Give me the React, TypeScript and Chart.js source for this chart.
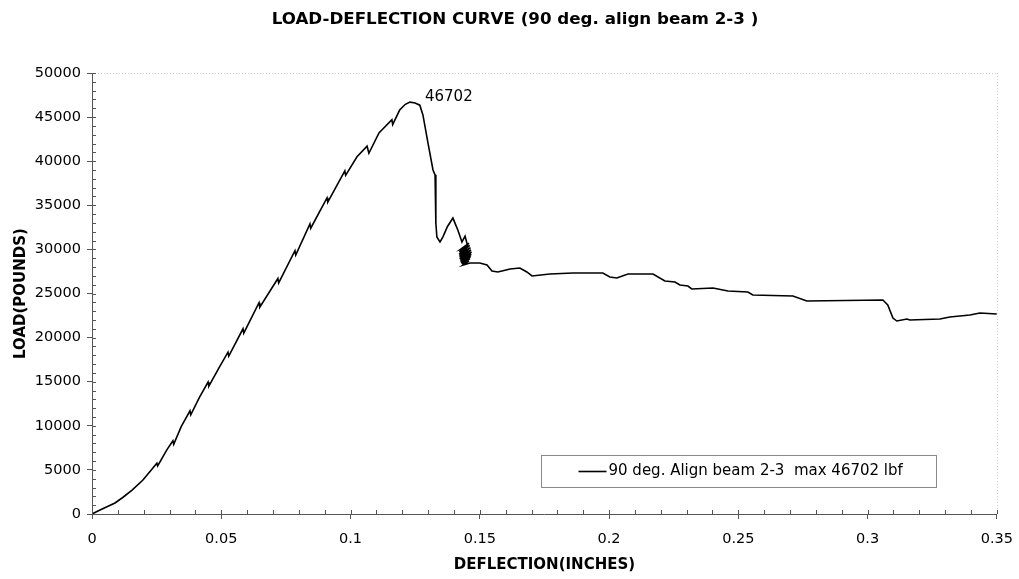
import React, { useEffect, useRef } from 'react';
import { Chart, registerables } from 'chart.js';

Chart.register(...registerables);

const chartTitle = 'LOAD-DEFLECTION CURVE (90 deg. align beam 2-3 )';
const xAxisTitle = 'DEFLECTION(INCHES)';
const yAxisTitle = 'LOAD(POUNDS)';
const seriesLabel = '90 deg. Align beam 2-3  max 46702 lbf';
const peakLoad = 46702;
const peakDeflection = 0.123;

const xMin = 0;
const xMax = 0.35;
const xMajorStep = 0.05;
const xMinorStep = 0.01;
const yMin = 0;
const yMax = 50000;
const yMajorStep = 5000;
const yMinorStep = 1000;

const deflection = [
  0, 0.0031, 0.006, 0.0089, 0.012, 0.0155, 0.0197, 0.0251, 0.0254, 0.029,
  0.0313, 0.0316, 0.0345, 0.0379, 0.0382, 0.0415, 0.0449, 0.0452, 0.049, 0.0526,
  0.0529, 0.0584, 0.0587, 0.0646, 0.0649, 0.0719, 0.0722, 0.0785, 0.0788, 0.0843,
  0.0846, 0.0909, 0.0912, 0.0978, 0.0981, 0.1025, 0.1064, 0.1071, 0.111, 0.116,
  0.1163, 0.119, 0.1212, 0.123, 0.125, 0.1268, 0.128, 0.13, 0.1319, 0.1327,
  0.133, 0.1334, 0.1346, 0.1357, 0.1375, 0.1396, 0.1415, 0.1431, 0.1443, 0.1454,
  // dense oscillation
  0.1425, 0.1458, 0.1421, 0.1461, 0.142, 0.1464, 0.1421, 0.1466, 0.1422, 0.1468,
  0.1424, 0.1467, 0.1426, 0.1465, 0.1429, 0.1462, 0.1432, 0.1458, 0.1435,
  // post-failure plateau
  0.1462, 0.15, 0.1528, 0.1547, 0.157, 0.1617, 0.1655, 0.1682, 0.1702, 0.1771,
  0.186, 0.1976, 0.2003, 0.203, 0.2073, 0.217, 0.2216, 0.2255, 0.2274, 0.2305,
  0.232, 0.2402, 0.246, 0.2537, 0.2556, 0.2711, 0.2765, 0.3059, 0.3078, 0.3098,
  0.3113, 0.3152, 0.3163, 0.328, 0.3318, 0.3396, 0.3434, 0.35,
];

const load = [
  0, 450, 850, 1250, 1900, 2700, 3850, 5750, 5450, 7300,
  8300, 7900, 9900, 11700, 11250, 13200, 14950, 14500, 16500, 18350,
  17900, 21000, 20500, 23950, 23450, 26700, 26200, 29850, 29350, 32900,
  32400, 35850, 35350, 38900, 38400, 40500, 41700, 40900, 43200, 44700,
  44150, 45800, 46450, 46702, 46600, 46350, 45250, 42000, 39000, 38450,
  33000, 31400, 30850, 31400, 32600, 33550, 32200, 30850, 31500, 30270,
  30000, 30700, 29700, 30450, 29450, 30200, 29200, 29950, 28950, 29700,
  28750, 29450, 28550, 29200, 28400, 28950, 28300, 28700, 28230,
  28460, 28460, 28230, 27550, 27440, 27780, 27890, 27440, 26990, 27210,
  27320, 27320, 26870, 26760, 27210, 27210, 26420, 26300, 25960, 25850,
  25510, 25620, 25280, 25170, 24830, 24720, 24150, 24260, 23700, 22220,
  21880, 22110, 22000, 22110, 22340, 22560, 22790, 22680,
];

const FONT = '"DejaVu Sans", "Liberation Sans", Arial, sans-serif';

const decorPlugin = {
  id: 'decor',
  afterDraw(chart: any) {
    const { ctx, chartArea: ca, scales } = chart;
    const xs = scales.x;
    const ys = scales.y;
    ctx.save();
    // title
    ctx.fillStyle = '#000';
    ctx.font = `bold 16.7px ${FONT}`;
    ctx.textAlign = 'center';
    ctx.textBaseline = 'middle';
    ctx.fillText(chartTitle, 515, 20);

    // faint dotted top / right frame
    ctx.strokeStyle = '#cfcfcf';
    ctx.lineWidth = 1;
    ctx.setLineDash([1, 2]);
    ctx.beginPath();
    ctx.moveTo(ca.left, Math.round(ca.top) + 0.5);
    ctx.lineTo(ca.right, Math.round(ca.top) + 0.5);
    ctx.moveTo(Math.round(ca.right) + 0.5, ca.top);
    ctx.lineTo(Math.round(ca.right) + 0.5, ca.bottom);
    ctx.stroke();
    ctx.setLineDash([]);

    // inside (minor + major) ticks
    ctx.strokeStyle = '#555';
    ctx.beginPath();
    const nx = Math.round((xMax - xMin) / xMinorStep);
    for (let i = 0; i <= nx; i++) {
      const px = Math.round(xs.getPixelForValue(xMin + i * xMinorStep)) + 0.5;
      ctx.moveTo(px, ca.bottom);
      ctx.lineTo(px, ca.bottom - 4);
    }
    const ny = Math.round((yMax - yMin) / yMinorStep);
    for (let i = 0; i <= ny; i++) {
      const py = Math.round(ys.getPixelForValue(yMin + i * yMinorStep)) + 0.5;
      ctx.moveTo(ca.left, py);
      ctx.lineTo(ca.left + 4, py);
    }
    ctx.stroke();

    // peak label
    const pX = xs.getPixelForValue(peakDeflection);
    const pY = ys.getPixelForValue(peakLoad);
    ctx.fillStyle = '#000';
    ctx.font = `15px ${FONT}`;
    ctx.textAlign = 'left';
    ctx.textBaseline = 'middle';
    ctx.fillText(String(peakLoad), pX + 15, pY - 5);

    // legend box
    const bx = ca.left + 449.5;
    const by = ca.bottom - 58.5;
    const bw = 395;
    const bh = 32;
    ctx.strokeStyle = '#8a8a8a';
    ctx.lineWidth = 1;
    ctx.strokeRect(bx, by, bw, bh);
    const cy = by + bh / 2;
    ctx.strokeStyle = '#000';
    ctx.lineWidth = 1.6;
    ctx.beginPath();
    ctx.moveTo(bx + 37, cy);
    ctx.lineTo(bx + 65, cy);
    ctx.stroke();
    ctx.fillStyle = '#000';
    ctx.font = `15px ${FONT}`;
    ctx.textBaseline = 'middle';
    ctx.fillText(seriesLabel, bx + 67, cy);
    ctx.restore();
  },
};

export default function App() {
  const canvasRef = useRef<HTMLCanvasElement | null>(null);

  useEffect(() => {
    if (!canvasRef.current) return;
    const points = deflection.map((x, i) => ({ x, y: load[i] }));
    const chart = new Chart(canvasRef.current, {
      type: 'scatter',
      data: {
        datasets: [
          {
            label: seriesLabel,
            data: points,
            showLine: true,
            borderColor: '#000',
            backgroundColor: '#000',
            borderWidth: 1.6,
            pointRadius: 0,
            tension: 0,
          },
        ],
      },
      options: {
        animation: false,
        responsive: true,
        maintainAspectRatio: false,
        layout: { padding: { left: 0, right: 22, top: 73, bottom: 0 } },
        plugins: {
          legend: { display: false },
          tooltip: { enabled: false },
          title: { display: false },
        },
        scales: {
          x: {
            type: 'linear',
            min: xMin,
            max: xMax,
            afterFit: (scale: any) => {
              scale.height = 65;
            },
            border: { color: '#555', width: 1 },
            grid: { drawOnChartArea: false, tickLength: 5, color: '#555' },
            ticks: {
              stepSize: xMajorStep,
              autoSkip: false,
              maxRotation: 0,
              color: '#000',
              padding: 6,
              font: { family: FONT, size: 14.5, lineHeight: 2.0 },
              callback: (v: any) => String(Number(Number(v).toFixed(2))),
            },
            title: {
              display: true,
              text: xAxisTitle,
              color: '#000',
              font: { family: FONT, size: 15, weight: 'bold' },
              padding: { top: 0, bottom: 5 },
            },
          },
          y: {
            type: 'linear',
            min: yMin,
            max: yMax,
            afterFit: (scale: any) => {
              scale.width = 92;
            },
            border: { color: '#555', width: 1 },
            grid: { drawOnChartArea: false, tickLength: 5, color: '#555' },
            ticks: {
              stepSize: yMajorStep,
              color: '#000',
              padding: 6,
              font: { family: FONT, size: 14.5 },
              callback: (v: any) => String(v),
            },
            title: {
              display: true,
              text: yAxisTitle,
              color: '#000',
              font: { family: FONT, size: 15, weight: 'bold' },
              padding: { top: 12, bottom: 0 },
            },
          },
        },
      },
      plugins: [decorPlugin],
    });
    return () => chart.destroy();
  }, []);

  return (
    <div style={{ position: 'fixed', left: 0, top: 0, width: 1019, height: 579, background: '#fff' }}>
      <canvas ref={canvasRef} />
    </div>
  );
}
